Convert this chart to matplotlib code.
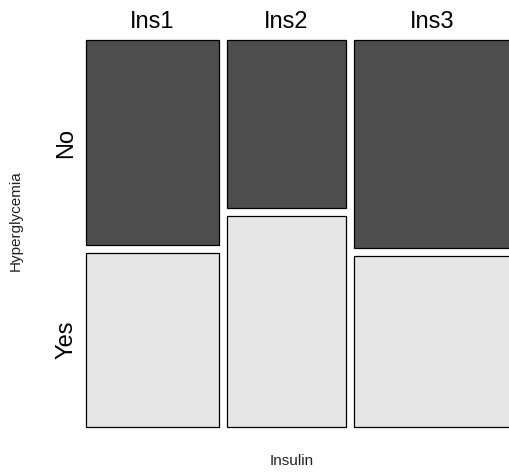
import numpy as np
import matplotlib.pyplot as plt
from matplotlib.patches import Rectangle

# mosaic: Insulin x Hyperglycemia
insulin = ['Ins1', 'Ins2', 'Ins3']
hyper = ['No', 'Yes']
no_counts = [53, 39, 63]
yes_counts = [45, 49, 52]

colors = {'No': '#4d4d4d', 'Yes': '#e6e6e6'}

no_arr = np.array(no_counts, dtype=float)
yes_arr = np.array(yes_counts, dtype=float)
totals = no_arr + yes_arr

gap_x = 0.018
gap_y = 0.02
widths = totals / totals.sum() * (1 - gap_x * (len(insulin) - 1))

plt.rcParams['font.family'] = ['Liberation Sans', 'DejaVu Sans']

fig = plt.figure(figsize=(5.09, 4.75), dpi=100)
ax = fig.add_axes([86 / 509, 48 / 475, 424 / 509, 387 / 475])
ax.set_xlim(0, 1)
ax.set_ylim(0, 1)
ax.axis('off')

x0 = 0.0
for i, name in enumerate(insulin):
    h_no = no_arr[i] / totals[i] * (1 - gap_y)
    h_yes = yes_arr[i] / totals[i] * (1 - gap_y)
    ax.add_patch(Rectangle((x0, 1 - h_no), widths[i], h_no,
                           facecolor=colors['No'], edgecolor='black',
                           linewidth=0.9, clip_on=False))
    ax.add_patch(Rectangle((x0, 0), widths[i], h_yes,
                           facecolor=colors['Yes'], edgecolor='black',
                           linewidth=0.9, clip_on=False))
    ax.text(x0 + widths[i] / 2, 1.047, name, ha='center', va='center',
            fontsize=17, clip_on=False)
    if i == 0:
        ax.text(-0.047, 1 - h_no / 2, 'No', rotation=90, ha='center',
                va='center', fontsize=17)
        ax.text(-0.047, h_yes / 2, 'Yes', rotation=90, ha='center',
                va='center', fontsize=17)
    x0 += widths[i] + gap_x

fig.text(292 / 509, 1 - 461 / 475, 'Insulin', ha='center', va='center',
         fontsize=11, color='#222222')
fig.text(16 / 509, 1 - 221 / 475, 'Hyperglycemia', ha='center', va='center',
         rotation=90, fontsize=11, color='#222222')

plt.savefig('out.png', dpi=100)
